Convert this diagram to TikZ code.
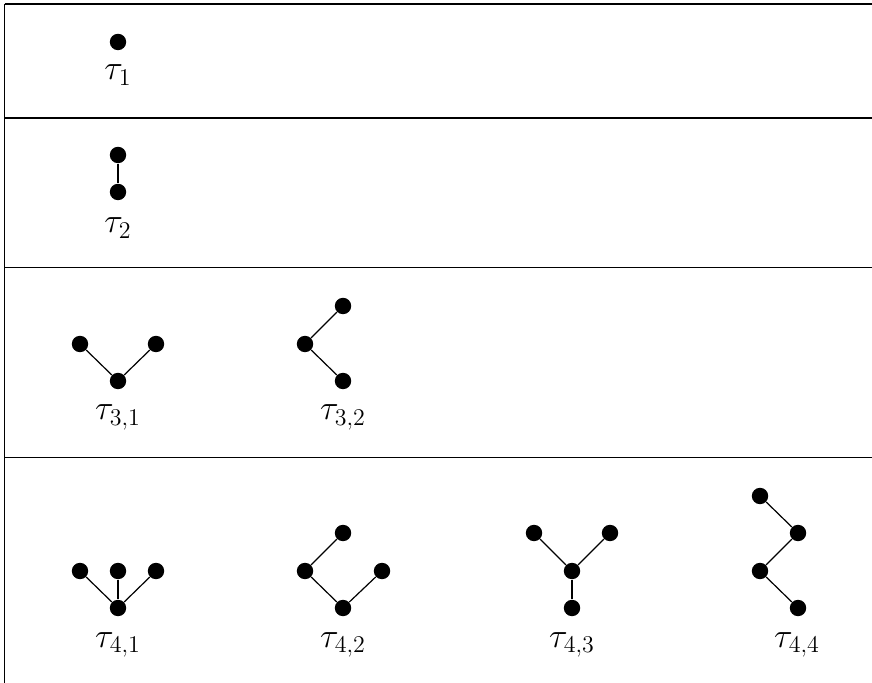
\documentclass[tikz,border=0pt]{standalone}
\begin{document}
\begin{tikzpicture}[x=0.5pt,y=-0.5pt,
  vtx/.style={circle,fill=black,inner sep=0pt,minimum size=8.2pt},
  edge/.style={line width=0.6pt},
  rule/.style={line width=0.6pt},
  lbl/.style={anchor=base,font=\fontsize{17.5}{20}\selectfont,inner sep=0pt}]
\useasboundingbox (0,0) rectangle (872,683);
% table rules
\coordinate (tl) at (4.5,4);
\coordinate (tr) at (872,4);
\coordinate (bl) at (4.5,683);
\coordinate (r1l) at (4.5,118); \coordinate (r1r) at (872,118);
\coordinate (r2l) at (4.5,267.5); \coordinate (r2r) at (872,267.5);
\coordinate (r3l) at (4.5,457.5); \coordinate (r3r) at (872,457.5);
\draw[rule] (tl) -- (tr);
\draw[rule] (tl) -- (bl);
\draw[rule] (r1l) -- (r1r);
\draw[rule] (r2l) -- (r2r);
\draw[rule] (r3l) -- (r3r);
% tau_1
\node[vtx] (a1) at (118,42) {};
\node[lbl] (la) at (118,80) {$\tau_1$};
% tau_2
\node[vtx] (b1) at (118,155) {};
\node[vtx] (b2) at (118,192) {};
\draw[edge] (b1) -- (b2);
\node[lbl] (lb) at (118,233) {$\tau_2$};
% tau_3,1
\node[vtx] (c1) at (80,344) {};
\node[vtx] (c2) at (156,344) {};
\node[vtx] (c3) at (118,381) {};
\draw[edge] (c1) -- (c3) -- (c2);
\node[lbl] (lc) at (118,420) {$\tau_{3,1}$};
% tau_3,2
\node[vtx] (d1) at (343,306) {};
\node[vtx] (d2) at (305,344) {};
\node[vtx] (d3) at (343,381) {};
\draw[edge] (d1) -- (d2) -- (d3);
\node[lbl] (ld) at (343,420) {$\tau_{3,2}$};
% tau_4,1
\node[vtx] (e1) at (80,571) {};
\node[vtx] (e2) at (118,571) {};
\node[vtx] (e3) at (156,571) {};
\node[vtx] (e4) at (118,608) {};
\draw[edge] (e1) -- (e4) -- (e3);
\draw[edge] (e2) -- (e4);
\node[lbl] (le) at (118,647) {$\tau_{4,1}$};
% tau_4,2
\node[vtx] (f1) at (343,533) {};
\node[vtx] (f2) at (305,571) {};
\node[vtx] (f3) at (382,571) {};
\node[vtx] (f4) at (343,608) {};
\draw[edge] (f1) -- (f2) -- (f4) -- (f3);
\node[lbl] (lf) at (343,647) {$\tau_{4,2}$};
% tau_4,3
\node[vtx] (g1) at (534,533) {};
\node[vtx] (g2) at (610,533) {};
\node[vtx] (g3) at (572,571) {};
\node[vtx] (g4) at (572,608) {};
\draw[edge] (g1) -- (g3) -- (g2);
\draw[edge] (g3) -- (g4);
\node[lbl] (lg) at (572,647) {$\tau_{4,3}$};
% tau_4,4
\node[vtx] (h1) at (760,496) {};
\node[vtx] (h2) at (798,533) {};
\node[vtx] (h3) at (760,571) {};
\node[vtx] (h4) at (798,608) {};
\draw[edge] (h1) -- (h2) -- (h3) -- (h4);
\node[lbl] (lh) at (797,647) {$\tau_{4,4}$};
\end{tikzpicture}
\end{document}
